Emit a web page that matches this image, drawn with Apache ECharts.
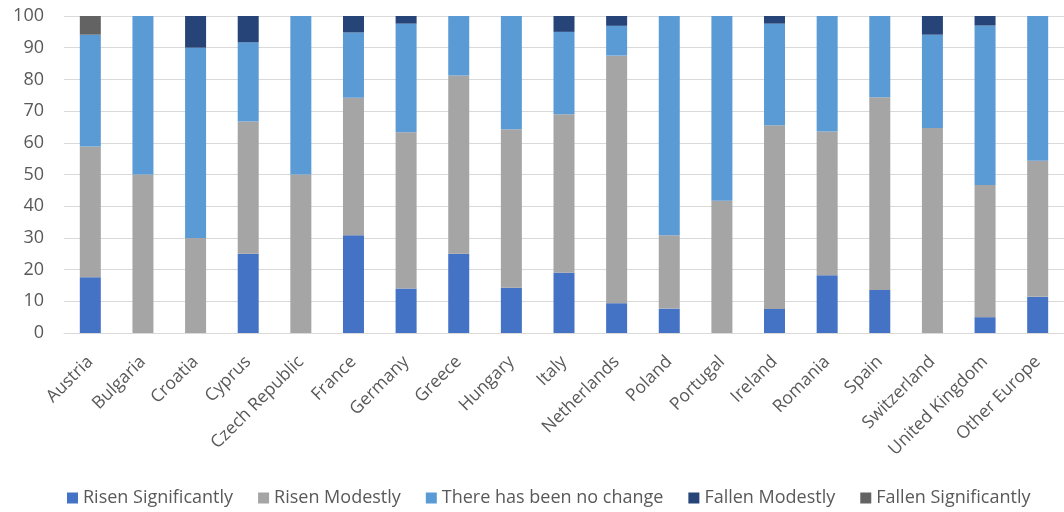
<!DOCTYPE html>
<html><head><meta charset="utf-8">
<script src="https://cdn.jsdelivr.net/npm/echarts@6/dist/echarts.min.js"></script>
<style>html,body{margin:0;padding:0;background:#fff}#c{width:1064px;height:512px}</style>
</head><body><div id="c"></div>
<script>
const categories = ["Austria","Bulgaria","Croatia","Cyprus","Czech Republic","France","Germany","Greece","Hungary","Italy","Netherlands","Poland","Portugal","Ireland","Romania","Spain","Switzerland","United Kingdom","Other Europe"];
const risenSignificantly = [17.6,0,0,25,0,30.8,14,25,14.3,19,9.4,7.7,0,7.6,18.2,13.6,0,5,11.4];
const risenModestly      = [41.2,50,30,41.7,50,43.4,49.3,56.25,50,50,78.1,23.1,41.7,57.9,45.4,60.8,64.7,41.7,42.9];
const noChange           = [35.3,50,60,25,50,20.6,34.3,18.75,35.7,26,9.4,69.2,58.3,32.1,36.4,25.6,29.4,50.3,45.7];
const fallenModestly     = [0,0,10,8.3,0,5.2,2.4,0,0,5,3.1,0,0,2.4,0,0,5.9,3,0];
const fallenSignificantly= [5.9,0,0,0,0,0,0,0,0,0,0,0,0,0,0,0,0,0,0];
const yTicks = [0,10,20,30,40,50,60,70,80,90,100];

const font = "Open Sans";
const names = ["Risen Significantly","Risen Modestly","There has been no change","Fallen Modestly","Fallen Significantly"];
const colors = ["#4472C4","#A5A5A5","#5B9BD5","#264478","#636363"];
const datas = [risenSignificantly,risenModestly,noChange,fallenModestly,fallenSignificantly];

const chart = echarts.init(document.getElementById('c'));
chart.setOption({
  animation:false,
  textStyle:{fontFamily:font},
  grid:{left:64,right:-10,top:16,bottom:179},
  legend:{bottom:0,left:62,itemWidth:11,itemHeight:11,itemGap:25,icon:'rect',
    textStyle:{fontFamily:font,fontSize:18,color:'#595959'},data:names},
  xAxis:{type:'category',data:categories,
    axisLine:{lineStyle:{color:'#D9D9D9'}},axisTick:{show:false},
    axisLabel:{rotate:45,interval:0,fontSize:17.5,color:'#595959',fontFamily:font,margin:26}},
  yAxis:{type:'value',min:0,max:100,interval:10,
    axisLine:{show:false},axisTick:{show:false},
    splitLine:{lineStyle:{color:'#D9D9D9'}},
    axisLabel:{fontSize:18,color:'#595959',fontFamily:font,margin:20,
      formatter:v=>yTicks.includes(v)?String(v):''}},
  series:names.map((n,i)=>({name:n,type:'bar',stack:'s',barWidth:21,
    itemStyle:{color:colors[i]},data:datas[i]}))
});
</script></body></html>
